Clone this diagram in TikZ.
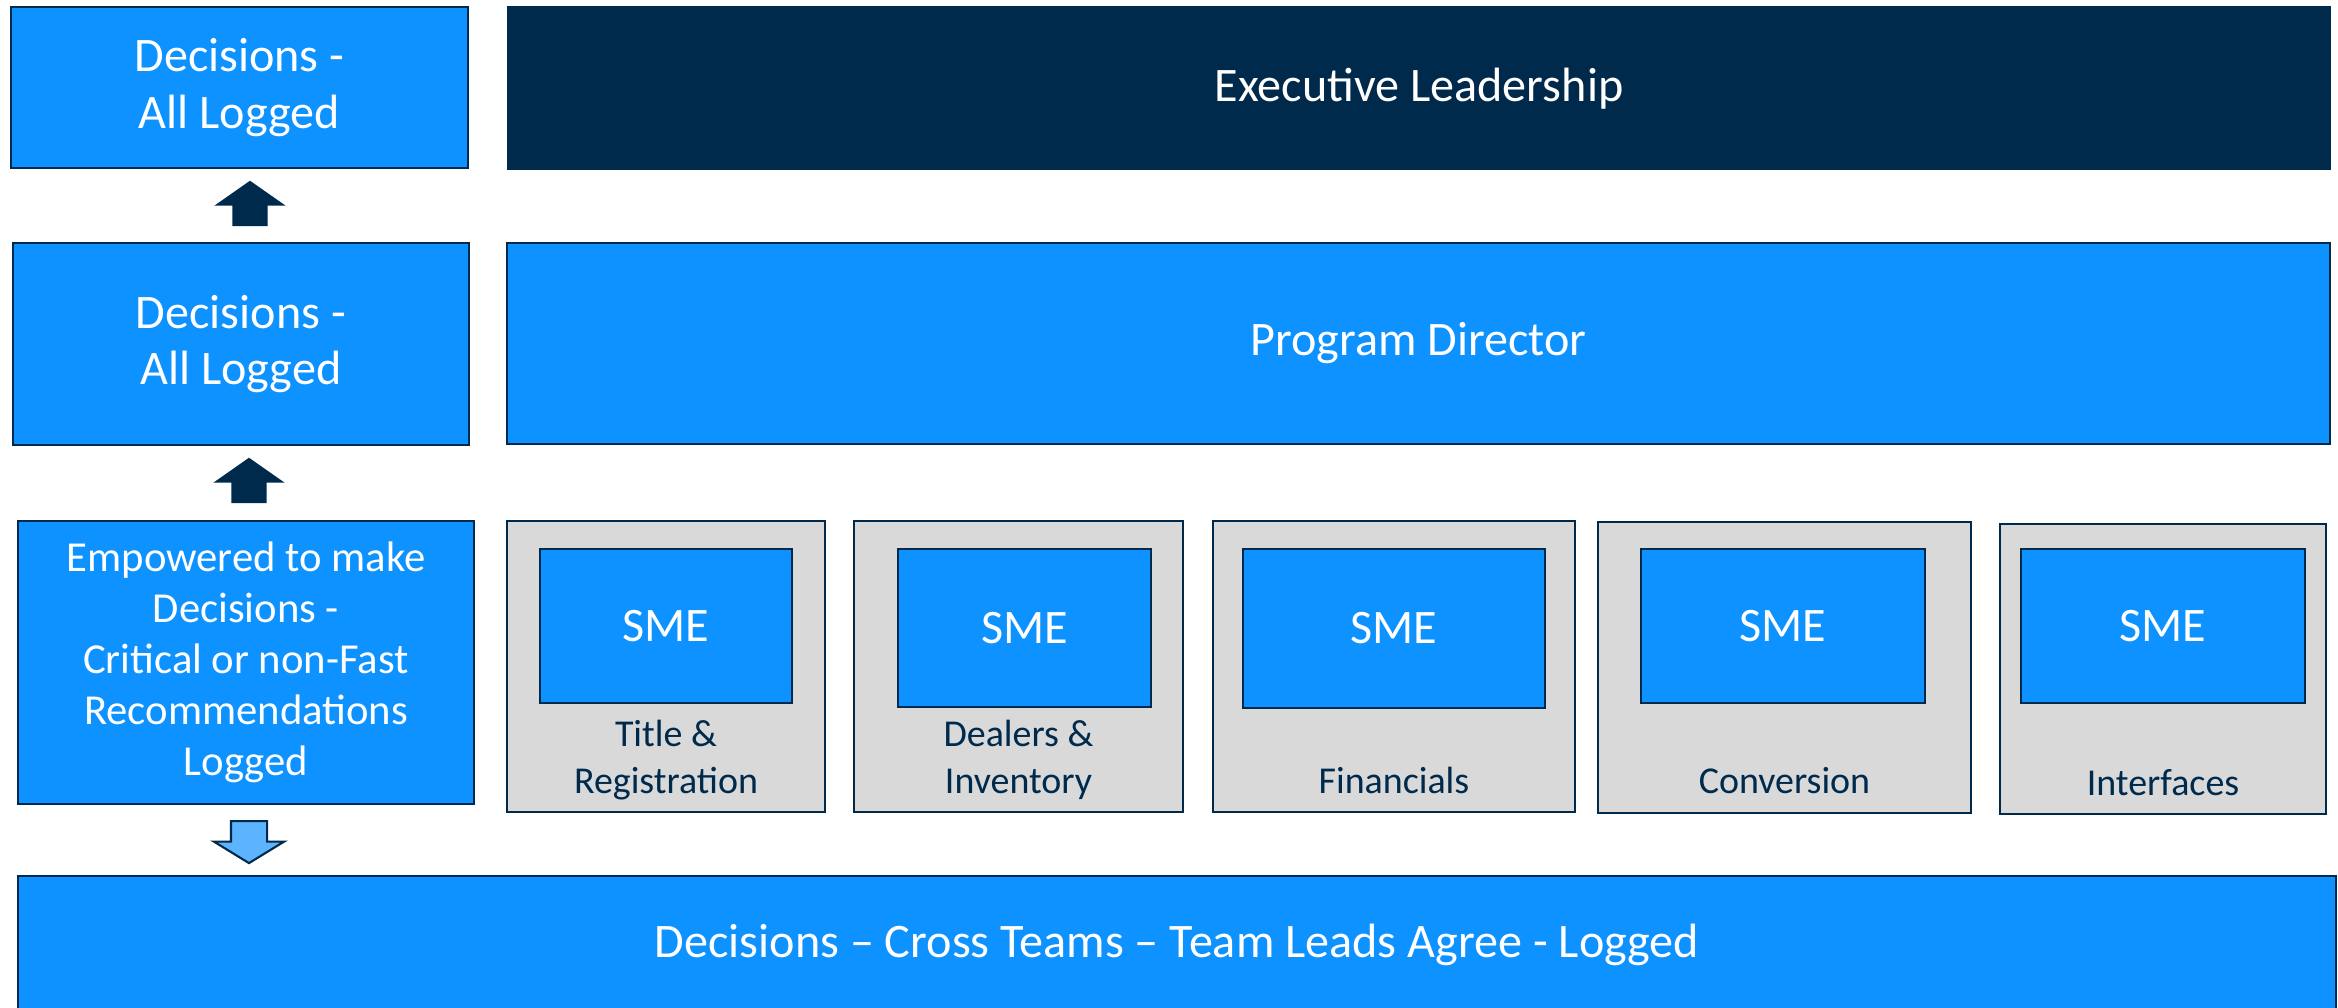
\documentclass[tikz,border=0pt]{standalone}
\usepackage{fontspec}
\setmainfont{Carlito}
\usetikzlibrary{shapes.arrows,calc}
\definecolor{mblue}{HTML}{0D92FF}
\definecolor{navy}{HTML}{002A4C}
\definecolor{panel}{HTML}{D9D9D9}
\definecolor{lightblue}{HTML}{5CB4FF}

\begin{document}
\begin{tikzpicture}[font=\fontsize{13.7}{16}\selectfont,
  bluebox/.style={rectangle, fill=mblue, draw=navy, line width=0.6pt, text=white, align=center, inner sep=0pt},
  topbox/.style={rectangle, fill=navy, text=white, inner sep=0pt},
  panelbox/.style={rectangle, fill=panel, draw=navy, line width=0.6pt, inner sep=0pt},
  teamlabel/.style={font=\fontsize{10.8}{13.1}\selectfont, text=navy, align=center, anchor=base},
  uparrow/.style={single arrow, rotate=90, anchor=tail, fill=navy, inner xsep=0pt, inner ysep=0.17cm, minimum width=0.7cm, minimum height=0.455cm, single arrow head extend=0.18cm, single arrow tip angle=110},
  downarrow/.style={single arrow, rotate=-90, anchor=tail, fill=lightblue, draw=navy, line width=0.6pt, inner xsep=0pt, inner ysep=0.17cm, minimum width=0.68cm, minimum height=0.42cm, single arrow head extend=0.17cm, single arrow tip angle=117}]

\useasboundingbox (0, 0) rectangle (23.38, -10.08);

% left column
\node[bluebox, minimum width=4.57cm, minimum height=1.61cm] (lead1) at (2.395, -0.875) {Decisions -\\All Logged};
\node[bluebox, minimum width=4.56cm, minimum height=2.02cm] (lead2) at (2.41, -3.44) {Decisions -\\All Logged};
\node[bluebox, minimum width=4.56cm, minimum height=2.83cm, font=\fontsize{12.15}{14.5}\selectfont] (lead3) at (2.46, -6.625) {Empowered to make\\Decisions -\\Critical or non-Fast\\Recommendations\\Logged};

% right column
\node[topbox, minimum width=18.24cm, minimum height=1.64cm] (exec) at (14.19, -0.885) {Executive Leadership};
\node[bluebox, minimum width=18.23cm, minimum height=2.01cm] (pd) at (14.185, -3.435) {Program Director};

% teams
\node[panelbox, minimum width=3.18cm, minimum height=2.91cm] (team1) at (6.66, -6.665) {};
\node[panelbox, minimum width=3.29cm, minimum height=2.91cm] (team2) at (10.185, -6.665) {};
\node[panelbox, minimum width=3.62cm, minimum height=2.91cm] (team3) at (13.94, -6.665) {};
\node[panelbox, minimum width=3.73cm, minimum height=2.91cm] (team4) at (17.845, -6.675) {};
\node[panelbox, minimum width=3.26cm, minimum height=2.90cm] (team5) at (21.63, -6.69) {};

\node[bluebox, minimum width=2.52cm, minimum height=1.54cm] (sme1) at (6.66, -6.26) {SME};
\node[bluebox, minimum width=2.53cm, minimum height=1.58cm] (sme2) at (10.245, -6.28) {SME};
\node[bluebox, minimum width=3.02cm, minimum height=1.59cm] (sme3) at (13.94, -6.285) {SME};
\node[bluebox, minimum width=2.84cm, minimum height=1.54cm] (sme4) at (17.83, -6.26) {SME};
\node[bluebox, minimum width=2.84cm, minimum height=1.54cm] (sme5) at (21.63, -6.26) {SME};

\node[teamlabel] (lbl1) at (6.66, -7.93) {Title \&\\Registration};
\node[teamlabel] (lbl2) at (10.185, -7.93) {Dealers \&\\Inventory};
\node[teamlabel] (lbl3) at (13.94, -7.93) {Financials};
\node[teamlabel] (lbl4) at (17.845, -7.93) {Conversion};
\node[teamlabel] (lbl5) at (21.63, -7.95) {Interfaces};

% bottom
\node[bluebox, minimum width=23.18cm, minimum height=1.38cm] (cross) at (11.77, -9.45) {Decisions -- Cross Teams -- Team Leads Agree - Logged};

% arrows
\node[uparrow] (up1) at ($(lead2.north) + (0.09, 0.15)$) {};
\node[uparrow] (up2) at ($(lead3.north) + (0.03, 0.16)$) {};
\node[downarrow] (down1) at ($(lead3.south) + (0.03, -0.15)$) {};
\end{tikzpicture}
\end{document}
